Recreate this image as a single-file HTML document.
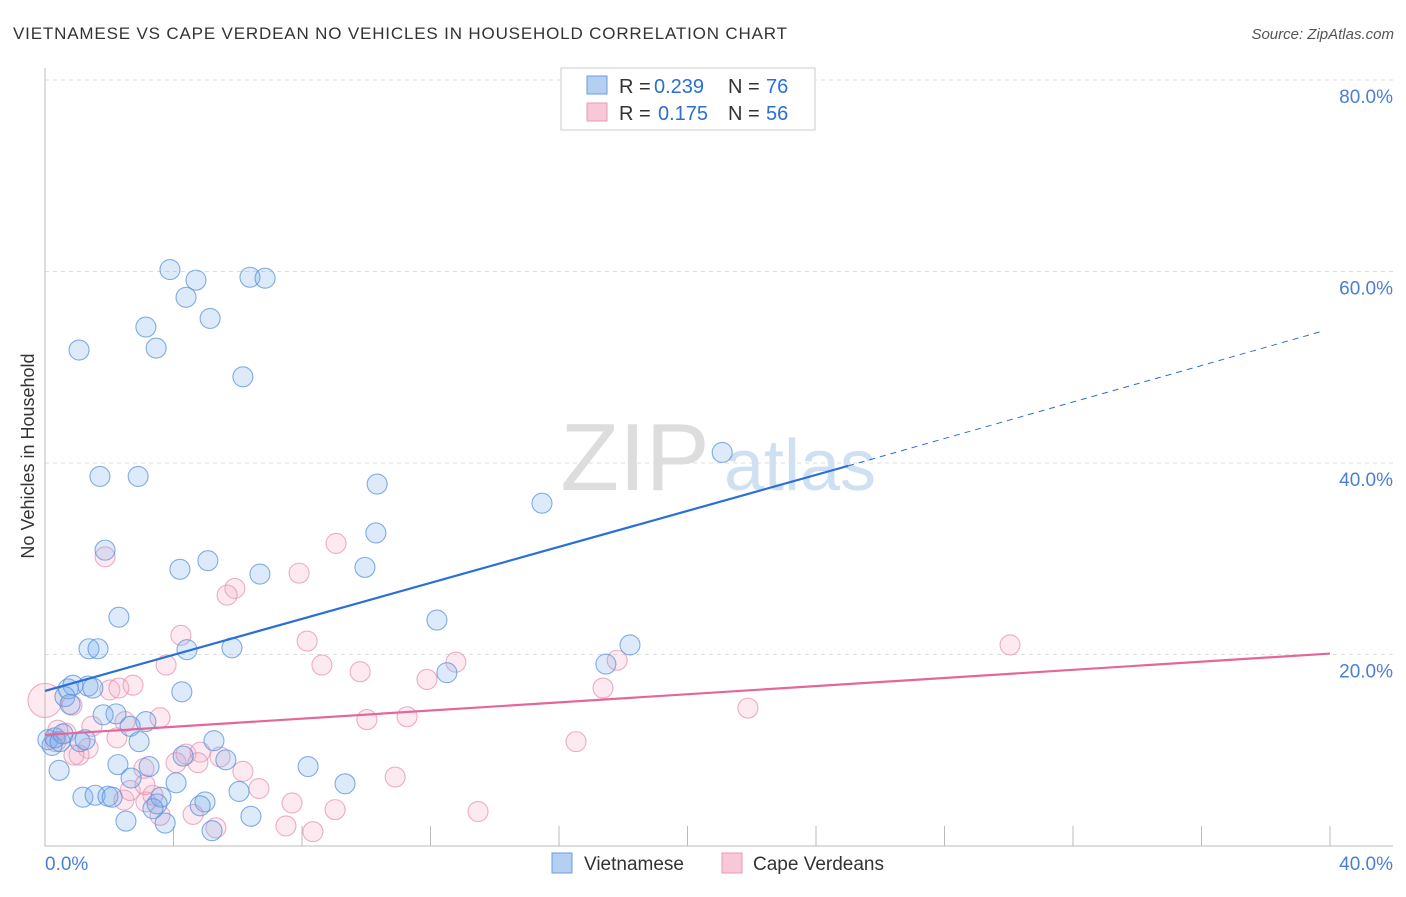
<!DOCTYPE html>
<html><head><meta charset="utf-8"><style>
body{margin:0;background:#fff;font-family:"Liberation Sans",sans-serif}
svg text{font-family:"Liberation Sans",sans-serif}
</style></head><body>
<svg id="chart" width="1406" height="892" xmlns="http://www.w3.org/2000/svg">
<text x="13" y="39" font-size="17" fill="#333" textLength="774">VIETNAMESE VS CAPE VERDEAN NO VEHICLES IN HOUSEHOLD CORRELATION CHART</text>
<text x="1394" y="39" font-size="15" fill="#555" font-style="italic" text-anchor="end">Source: ZipAtlas.com</text>
<text transform="translate(34,456) rotate(-90)" font-size="18" fill="#333" text-anchor="middle">No Vehicles in Household</text>
<g><text x="635" y="490" font-size="96" fill="#ddd" font-family="Liberation Serif" text-anchor="middle">ZIP</text><text x="800" y="490" font-size="72" fill="#cfe0f3" text-anchor="middle">atlas</text></g>
<g id="grid"></g><g id="axes"></g><g id="pts"></g><g id="lines"></g>
<g>
<rect x="561" y="68" width="254" height="62" fill="#fff" stroke="#ccc"/>
<rect x="587" y="76" width="20" height="18" fill="#b4cff2" stroke="#6a9ee0"/>
<rect x="587" y="103" width="20" height="18" fill="#f8c8d8" stroke="#e89ab5"/>
<text x="619" y="93" font-size="20" fill="#333">R =</text><text x="654" y="93" font-size="20" fill="#2a6fd6">0.239</text>
<text x="728" y="93" font-size="20" fill="#333">N =</text><text x="766" y="93" font-size="20" fill="#2a6fd6">76</text>
<text x="619" y="120" font-size="20" fill="#333">R =</text><text x="658" y="120" font-size="20" fill="#2a6fd6">0.175</text>
<text x="728" y="120" font-size="20" fill="#333">N =</text><text x="766" y="120" font-size="20" fill="#2a6fd6">56</text>
</g>
<g>
<rect x="552" y="853" width="20" height="20" fill="#b4cff2" stroke="#6a9ee0"/>
<text x="584" y="870" font-size="19" fill="#333">Vietnamese</text>
<rect x="722" y="853" width="20" height="20" fill="#f8c8d8" stroke="#e89ab5"/>
<text x="753" y="870" font-size="19" fill="#333">Cape Verdeans</text>
</g>
</svg>
<script>
const yTicks=[20,40,60,80];
const yTickLabels=["20.0%","40.0%","60.0%","80.0%"];
const blueX=[3.89,4.70,4.39,6.38,6.85,3.14,5.14,1.06,3.46,6.16,1.71,2.90,10.34,15.47,21.08,10.30,1.87,4.20,5.07,6.69,9.96,2.30,12.20,1.37,1.65,4.42,5.82,12.51,17.46,18.21,0.72,0.87,1.34,1.49,4.26,0.62,0.78,2.21,1.81,3.14,2.65,1.09,2.93,5.26,0.09,0.22,0.31,0.47,2.27,3.24,0.44,5.63,8.19,2.68,4.08,9.34,1.18,1.56,1.96,2.09,3.61,3.49,4.98,4.83,6.04,2.52,3.74,6.41,5.20,3.36,4.30,0.56,1.25];
const blueY=[60.2,59.1,57.3,59.4,59.3,54.2,55.1,51.8,52.0,49.0,38.6,38.6,37.8,35.8,41.1,32.7,30.9,28.9,29.8,28.4,29.1,23.9,23.6,20.6,20.6,20.5,20.7,18.1,19.0,21.0,16.4,16.8,16.7,16.5,16.1,15.6,14.8,13.8,13.7,13.0,12.5,10.9,10.9,11.0,11.1,10.5,11.3,10.9,8.5,8.3,7.9,9.0,8.3,7.1,6.6,6.5,5.1,5.3,5.2,5.1,5.1,4.4,4.6,4.2,5.7,2.6,2.4,3.1,1.6,3.9,9.4,11.7,11.1];
const pinkX=[0,1.87,9.06,5.91,5.67,7.91,4.23,8.16,3.77,8.62,9.81,12.79,11.89,17.37,17.81,30.04,21.88,2.02,2.30,2.74,0.84,3.58,1.46,2.49,2.24,1.34,1.06,0.90,4.39,4.83,4.76,6.16,4.08,3.08,10.02,11.27,10.90,16.53,3.36,3.14,2.46,3.58,4.61,6.66,7.69,7.50,8.34,9.03,5.32,13.48,0.65,0.40,0.34,2.65,3.11,5.45];
const pinkY=[15.2,30.2,31.6,26.9,26.2,28.5,22.0,21.4,18.9,18.9,18.2,19.2,17.4,16.5,19.4,21.0,14.4,16.3,16.5,16.8,14.7,13.4,12.5,13.0,11.3,10.2,9.5,9.5,9.6,9.8,8.7,7.8,8.7,8.1,13.2,13.5,7.2,10.9,5.3,4.6,4.8,3.2,3.3,6.0,4.5,2.1,1.5,3.8,1.9,3.6,11.8,12.1,10.9,5.8,6.4,9.3];
const blueTrend=[[0,16.2],[25,39.7],[39.8,53.8]];
const pinkTrend=[[0,11.6],[40,20.1]];
const NS="http://www.w3.org/2000/svg";
const X=v=>45+v/40*1285, Y=v=>846-v/80*766;
function mk(tag,attrs,parent){const e=document.createElementNS(NS,tag);for(const k in attrs)e.setAttribute(k,attrs[k]);parent.appendChild(e);return e;}
const grid=document.getElementById('grid'),axes=document.getElementById('axes'),pts=document.getElementById('pts'),lines=document.getElementById('lines');
yTicks.forEach((t,i)=>{
 const l=mk('line',{x1:45,x2:1393,y1:Y(t),y2:Y(t),stroke:'#ddd','stroke-dasharray':'4,4'},grid);
 
 
 const tx=mk('text',{x:1393,y:Y(t)+23,'font-size':19,fill:'#4a7fd6','text-anchor':'end'},grid);
 tx.textContent=yTickLabels[i];
 
 
});
const ax=mk('path',{d:'M45,68V846H1393',stroke:'#bbb',fill:'none'},axes);


for(let i=1;i<=10;i++){const t=mk('line',{x1:X(i*4),x2:X(i*4),y1:826,y2:846,stroke:'#bbb'},axes);
 
 }
[["0.0%",45,'start'],["40.0%",1393,'end']].forEach(a=>{const t=mk('text',{x:a[1],y:870,'font-size':19,fill:'#4a7fd6','text-anchor':a[2]},axes);t.textContent=a[0];
 
 });
pinkX.forEach((v,i)=>{const c=mk('circle',{cx:X(v),cy:Y(pinkY[i]),r:i==0?17:10,fill:'rgba(245,170,195,0.25)',stroke:'rgba(230,140,175,0.7)','stroke-width':1.1},pts);
 
 });
blueX.forEach((v,i)=>{const c=mk('circle',{cx:X(v),cy:Y(blueY[i]),r:10,fill:'rgba(120,170,235,0.25)',stroke:'rgba(90,145,220,0.75)','stroke-width':1.1},pts);
 
 });
let b=mk('line',{x1:X(blueTrend[0][0]),y1:Y(blueTrend[0][1]),x2:X(blueTrend[1][0]),y2:Y(blueTrend[1][1]),stroke:'#2a6fd6','stroke-width':2.2},lines);


b=mk('line',{x1:X(blueTrend[1][0]),y1:Y(blueTrend[1][1]),x2:X(blueTrend[2][0]),y2:Y(blueTrend[2][1]),stroke:'#2a6fd6','stroke-width':1,'stroke-dasharray':'6,5'},lines);


b=mk('line',{x1:X(pinkTrend[0][0]),y1:Y(pinkTrend[0][1]),x2:X(pinkTrend[1][0]),y2:Y(pinkTrend[1][1]),stroke:'#e4679a','stroke-width':2.2},lines);


</script>
</body></html>
